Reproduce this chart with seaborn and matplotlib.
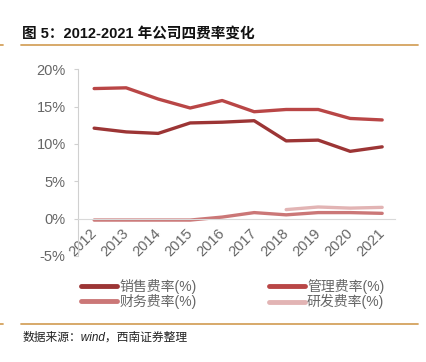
import seaborn as sns
import matplotlib.pyplot as plt
import pandas as pd
import numpy as np
from matplotlib.lines import Line2D

# dados
anos = [2012, 2013, 2014, 2015, 2016, 2017, 2018, 2019, 2020, 2021]
vendas = [12.1, 11.6, 11.4, 12.8, 12.9, 13.1, 10.4, 10.5, 9.0, 9.6]
gestao = [17.4, 17.5, 16.0, 14.8, 15.8, 14.3, 14.6, 14.6, 13.4, 13.2]
financeiro = [-0.2, -0.2, -0.2, -0.2, 0.2, 0.8, 0.5, 0.8, 0.8, 0.7]
pesquisa = [np.nan, np.nan, np.nan, np.nan, np.nan, np.nan, 1.2, 1.55, 1.4, 1.5]

nomes = ["销售费率(%)", "管理费率(%)", "财务费率(%)", "研发费率(%)"]
cores = ["#9c3535", "#b94646", "#cb7777", "#e2b4b4"]

tabela = pd.DataFrame({"ano": anos, nomes[0]: vendas, nomes[1]: gestao,
                       nomes[2]: financeiro, nomes[3]: pesquisa})
tabela = tabela.melt(id_vars="ano", var_name="serie", value_name="valor")

sns.set_style("white")
plt.rcParams['font.family'] = ['Liberation Sans', 'Noto Sans CJK SC', 'DejaVu Sans']

fig = plt.figure(figsize=(4.27, 3.62), dpi=100)
ax = fig.add_axes([0.183, 0.293, 0.742, 0.516])

sns.lineplot(data=tabela, x="ano", y="valor", hue="serie", hue_order=nomes,
             palette=cores, linewidth=2.4, ax=ax, legend=False)

ax.set_xlim(2011.5, 2021.4)
ax.set_ylim(-5, 20)
ax.set_yticks([-5, 0, 5, 10, 15, 20])
ax.set_yticklabels([f"{v}%" for v in [-5, 0, 5, 10, 15, 20]])
ax.set_xticks(anos)
ax.set_xticklabels([str(a) for a in anos])
ax.set_xlabel("")
ax.set_ylabel("")

for s in ["top", "right"]:
    ax.spines[s].set_visible(False)
ax.spines["left"].set_color("#d0d0d0")
ax.spines["bottom"].set_color("#d9d9d9")
ax.spines["bottom"].set_position(("data", 0))
ax.tick_params(axis="y", colors="#666666", labelsize=10.5, length=3, color="#d0d0d0", left=True, pad=6)
ax.tick_params(axis="x", colors="#666666", labelsize=10.5, length=0, pad=9, labelrotation=45)
for rot in ax.get_xticklabels():
    rot.set_ha("right")
    rot.set_va("center")
    rot.set_rotation_mode("anchor")

# legenda: vendas/financeiro na primeira coluna, gestao/pesquisa na segunda
alcas = [Line2D([], [], color=c, linewidth=3.5, solid_capstyle="round") for c in cores]
fig.legend([alcas[0], alcas[2], alcas[1], alcas[3]],
           [nomes[0], nomes[2], nomes[1], nomes[3]], ncol=2, loc="center",
           bbox_to_anchor=(0.545, 0.187), frameon=False, fontsize=10,
           handlelength=2.6, handletextpad=0.15, columnspacing=5.2,
           labelspacing=0.0, labelcolor="#666666")

# titulo, linhas douradas e fonte
fig.text(0.052, 0.908, "图 5：2012-2021 年公司四费率变化", fontsize=10.5, fontweight="bold",
         color="#111111", va="center")
ouro = "#d4a25e"
fig.add_artist(Line2D([0.049, 0.98], [0.876, 0.876], color=ouro, linewidth=1.3))
fig.add_artist(Line2D([0.0, 0.008], [0.876, 0.876], color=ouro, linewidth=1.3))
fig.add_artist(Line2D([0.049, 0.98], [0.105, 0.105], color=ouro, linewidth=1.3))
fig.add_artist(Line2D([0.0, 0.008], [0.105, 0.105], color=ouro, linewidth=1.3))
fig.text(0.052, 0.066, "数据来源：wind，西南证券整理", fontsize=8.5, style="italic",
         color="#222222", va="center")

plt.savefig("out.png", dpi=100)
